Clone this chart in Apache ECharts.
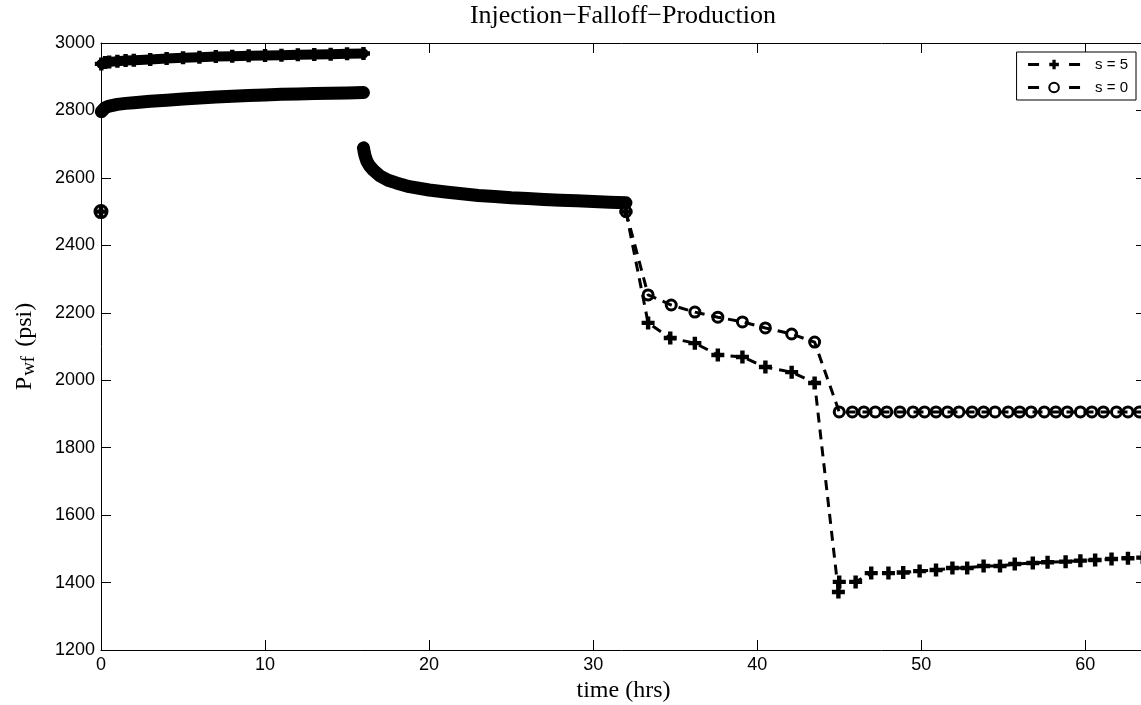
<!DOCTYPE html>
<html>
<head>
<meta charset="utf-8">
<script src="https://cdn.jsdelivr.net/npm/echarts@6/dist/echarts.min.js"></script>
<style>
html,body{margin:0;padding:0;background:#fff;}
#chart{width:1141px;height:705px;}
</style>
</head>
<body>
<div id="chart"></div>
<script>
// ---- data ----
const titleText = 'Injection\u2212Falloff\u2212Production';
const xTicks = [0, 10, 20, 30, 40, 50, 60];
const yTicks = [1200, 1400, 1600, 1800, 2000, 2200, 2400, 2600, 2800, 3000];

const initTime = [0];
const initP = [2500];

const injTime = [0.02, 0.25, 0.5, 1, 1.5, 2, 3, 4, 5, 6, 7, 8, 9, 10, 11, 12, 13, 14, 15, 16];
const injS5  = [2938, 2942, 2944, 2946, 2948, 2949, 2951, 2954, 2956, 2958, 2960, 2961, 2962, 2963, 2964, 2965, 2966, 2967, 2968, 2969];
const injS0  = [2796, 2808, 2813, 2818, 2821, 2823, 2827, 2830, 2834, 2837, 2840, 2842, 2844, 2846, 2848, 2849, 2850, 2851, 2852, 2853];

const falloffTime = [16.0, 16.05, 16.1, 16.2, 16.35, 16.6, 17.0, 17.5, 18, 18.8, 20, 21, 22, 23, 24, 25, 26, 27, 28, 29, 30, 31, 32];
const falloffP    = [2689, 2675, 2665, 2650, 2637, 2623, 2606, 2593, 2585, 2574, 2564, 2558, 2553, 2548, 2545, 2541, 2539, 2536, 2534, 2532, 2530, 2528, 2526];

const prodTimeS0 = [32, 33.35, 34.76, 36.2, 37.6, 39.1, 40.5, 42.1, 43.5, 45.0, 45.8, 46.5, 47.2, 47.9, 48.7, 49.5, 50.2, 50.9, 51.6, 52.3, 53.1, 53.8, 54.5, 55.3, 56.0, 56.7, 57.5, 58.2, 58.9, 59.7, 60.4, 61.1, 61.9, 62.6, 63.3, 64.0];
const prodS0     = [2500, 2253, 2223, 2202, 2187, 2173, 2155, 2137, 2113, 1906, 1906, 1906, 1906, 1906, 1906, 1906, 1906, 1906, 1906, 1906, 1906, 1906, 1906, 1906, 1906, 1906, 1906, 1906, 1906, 1906, 1906, 1906, 1906, 1906, 1906, 1906];

const prodTimeS5 = [32, 33.35, 34.7, 36.2, 37.6, 39.1, 40.5, 42.1, 43.5, 44.95, 45.0, 46.0, 46.95, 48.0, 48.9, 49.9, 50.9, 51.9, 52.8, 53.8, 54.8, 55.7, 56.8, 57.7, 58.8, 59.7, 60.6, 61.6, 62.6, 63.5];
const prodS5     = [2500, 2170, 2125, 2110, 2075, 2069, 2039, 2024, 1992, 1372, 1402, 1402, 1428, 1428, 1430, 1434, 1437, 1443, 1443, 1449, 1449, 1455, 1458, 1460, 1462, 1465, 1467, 1470, 1472, 1474];

// ---- helpers ----
const zip = (xs, ys) => xs.map((x, i) => [x, ys[i]]);
const PLUS = 'path://M3.3,0H6.7V3.3H10V6.7H6.7V10H3.3V6.7H0V3.3H3.3Z';
const SANS = 'Liberation Sans, Arial, sans-serif';
const SERIF = 'Liberation Serif, Times New Roman, serif';

const X_MIN = xTicks[0], X_MAX = 63.7, X_INT = xTicks[1] - xTicks[0];
const Y_MIN = yTicks[0], Y_MAX = yTicks[yTicks.length - 1], Y_INT = yTicks[1] - yTicks[0];

const chart = echarts.init(document.getElementById('chart'), null, {renderer: 'canvas'});

const axisCommon = {
  axisLine: {show: true, onZero: false, lineStyle: {color: '#000', width: 1}},
  axisTick: {show: true, inside: true, length: 10, lineStyle: {color: '#000', width: 1}},
  splitLine: {show: false}
};

const option = {
  animation: false,
  backgroundColor: '#fff',
  grid: {left: 101, top: 43, width: 1045, height: 607, containLabel: false, outerBoundsMode: 'none'},
  graphic: [{
    type: 'text', x: 623, y: 3,
    style: {text: titleText, textAlign: 'center', textVerticalAlign: 'top', font: '26px ' + SERIF, fill: '#000'}
  }],
  legend: {
    orient: 'vertical', right: 5, top: 52,
    data: [
      {name: 's = 5', lineStyle: {type: [11, 30], width: 3}},
      {name: 's = 0', lineStyle: {type: [11, 30], width: 3}}
    ],
    itemWidth: 52, itemHeight: 12, itemGap: 8,
    padding: [5, 8, 5, 10],
    backgroundColor: '#fff', borderColor: '#000', borderWidth: 1,
    textStyle: {fontFamily: SANS, fontSize: 15, color: '#000', padding: [0, 0, 0, 10]}
  },
  xAxis: [
    Object.assign({}, axisCommon, {
      type: 'value', position: 'bottom', min: X_MIN, max: X_MAX, interval: X_INT,
      name: 'time (hrs)', nameLocation: 'middle', nameGap: 26,
      nameTextStyle: {fontFamily: SERIF, fontSize: 24, color: '#000'},
      axisLabel: {show: true, margin: 6, fontFamily: SANS, fontSize: 18, color: '#000',
        formatter: v => (xTicks.indexOf(v) >= 0 ? String(v) : '')}
    }),
    Object.assign({}, axisCommon, {
      type: 'value', position: 'top', min: X_MIN, max: X_MAX, interval: X_INT,
      axisLabel: {show: false}
    })
  ],
  yAxis: [
    Object.assign({}, axisCommon, {
      type: 'value', position: 'left', min: Y_MIN, max: Y_MAX, interval: Y_INT,
      name: 'P{sub|wf} (psi)', nameLocation: 'middle', nameGap: 62, nameRotate: 90,
      nameTextStyle: {fontFamily: SERIF, fontSize: 24, color: '#000',
        rich: {sub: {fontFamily: SERIF, fontSize: 19, color: '#000', verticalAlign: 'bottom', padding: [10, 3, 0, 1]}}},
      axisLabel: {show: true, margin: 6, fontFamily: SANS, fontSize: 18, color: '#000',
        formatter: v => String(v)}
    }),
    Object.assign({}, axisCommon, {
      type: 'value', position: 'right', min: Y_MIN, max: Y_MAX, interval: Y_INT,
      axisLabel: {show: false}
    })
  ],
  series: [
    {
      name: 'inj5', type: 'line', data: zip(injTime, injS5),
      lineStyle: {color: '#000', width: 10, cap: 'round', join: 'round'},
      symbol: PLUS, symbolSize: 13, showSymbol: true, showAllSymbol: true,
      itemStyle: {color: '#000'}, z: 2
    },
    {
      name: 'inj0', type: 'line', data: zip(injTime, injS0),
      lineStyle: {color: '#000', width: 13, cap: 'round', join: 'round'},
      symbol: 'none', z: 2
    },
    {
      name: 'fall', type: 'line', data: zip(falloffTime, falloffP),
      lineStyle: {color: '#000', width: 13, cap: 'round', join: 'round'},
      symbol: 'none', z: 2
    },
    {
      name: 's = 5', type: 'line', data: zip(prodTimeS5, prodS5),
      lineStyle: {color: '#000', width: 3, type: [10, 7]},
      symbol: PLUS, symbolSize: 13, showSymbol: true, showAllSymbol: true,
      itemStyle: {color: '#000'}, z: 3
    },
    {
      name: 's = 0', type: 'line', data: zip(prodTimeS0, prodS0),
      lineStyle: {color: '#000', width: 3, type: [10, 7]},
      symbol: 'circle', symbolSize: 10, showSymbol: true, showAllSymbol: true,
      itemStyle: {color: 'rgba(0,0,0,0)', borderColor: '#000', borderWidth: 3}, z: 4
    },
    {
      name: 'init5', type: 'line', data: zip(initTime, initP),
      symbol: PLUS, symbolSize: 13, itemStyle: {color: '#000'}, lineStyle: {width: 0}, clip: false, z: 5
    },
    {
      name: 'init0', type: 'line', data: zip(initTime, initP),
      symbol: 'circle', symbolSize: 12, itemStyle: {color: 'rgba(0,0,0,0)', borderColor: '#000', borderWidth: 3},
      lineStyle: {width: 0}, clip: false, z: 5
    }
  ]
};

chart.setOption(option);
</script>
</body>
</html>
